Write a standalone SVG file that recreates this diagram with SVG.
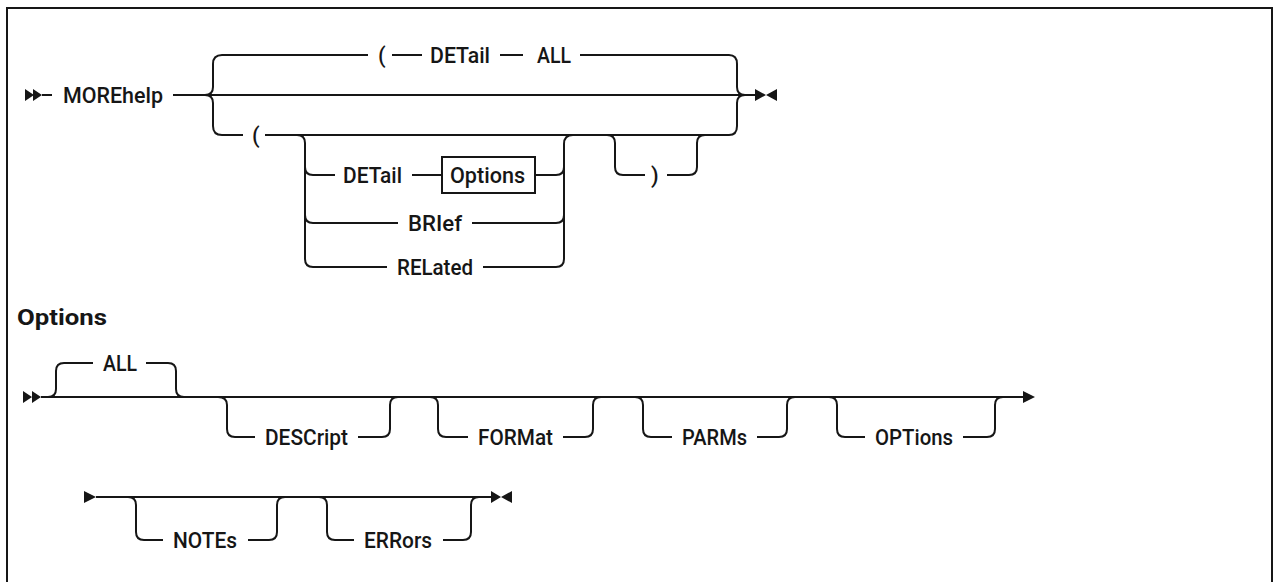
<svg xmlns="http://www.w3.org/2000/svg" width="1274" height="582" viewBox="0 0 1274 582">
<style>
.l{fill:none;stroke:#161616;stroke-width:2}
.a{fill:#161616;stroke:none}
.t{font-family:Roboto,"Liberation Sans",Arial,sans-serif;font-size:22px;font-weight:500;fill:#161616}
.h{font-family:Roboto,"Liberation Sans",Arial,sans-serif;font-size:22px;font-weight:700;fill:#161616}
.box{fill:#fff;stroke:#161616;stroke-width:2}
</style>
<rect x="0" y="0" width="1274" height="582" fill="#fff"/>
<rect x="7" y="8" width="1265" height="620" fill="none" stroke="#161616" stroke-width="2"/>

<g id="connectors">
  <path class="a" d="M25 89 L34 95 L25 101 Z M33 89 L42 95 L33 101 Z"/>
  <path class="l" d="M42 95 H52"/>
  <path class="l" d="M173 95 H755"/>
  <path class="l" d="M222 55 Q213 55 213 64 V87 Q213 95 205 95 M205 95 Q213 95 213 103 V126 Q213 135 222 135"/>
  <path class="l" d="M222 55 H368 M392 55 H422 M500 55 H523 M580 55 H729"/>
  <path class="l" d="M729 55 Q737 55 737 64 V87 Q737 95 745 95 M745 95 Q737 95 737 103 V126 Q737 135 729 135"/>
  <path class="l" d="M222 135 H243 M265 135 H729"/>
  <path class="l" d="M297 135 Q305 135 305 143 V259 Q305 267 313 267 M305 167 Q305 175 313 175 M305 215 Q305 223 313 223"/>
  <path class="l" d="M313 175 H335 M412 175 H442 M535 175 H556"/>
  <path class="l" d="M313 223 H398 M472 223 H556"/>
  <path class="l" d="M313 267 H387 M483 267 H556"/>
  <path class="l" d="M573 135 Q564 135 564 144 V259 Q564 267 556 267 M556 175 Q564 175 564 167 M556 223 Q564 223 564 215"/>
  <path class="l" d="M607 135 Q615 135 615 143 V167 Q615 175 623 175 H645 M667 175 H689 Q697 175 697 167 V143 Q697 135 705 135"/>
  <path class="a" d="M755 89 L766 95 L755 101 Z M777 89 L766 95 L777 101 Z"/>

  <path class="a" d="M23 391 L32 397 L23 403 Z M32 391 L41 397 L32 403 Z"/>
  <path class="l" d="M41 397 H1023"/>
  <path class="a" d="M1023 391 L1035 397 L1023 403 Z"/>
  <path class="l" d="M48 397 Q56 397 56 389 V371 Q56 363 64 363 H93 M146 363 H168 Q176 363 176 371 V389 Q176 397 184 397"/>
  <path class="l" d="M218 397 Q227 397 227 405 V429 Q227 437 235 437 H255 M358 437 H382 Q390 437 390 429 V405 Q390 397 398 397"/>
  <path class="l" d="M430 397 Q438 397 438 405 V429 Q438 437 446 437 H468 M563 437 H585 Q593 437 593 429 V405 Q593 397 601 397"/>
  <path class="l" d="M635 397 Q643 397 643 405 V429 Q643 437 651 437 H672 M757 437 H779 Q787 437 787 429 V405 Q787 397 795 397"/>
  <path class="l" d="M829 397 Q837 397 837 405 V429 Q837 437 845 437 H865 M963 437 H987 Q995 437 995 429 V405 Q995 397 1003 397"/>

  <path class="a" d="M84 491 L96 497 L84 503 Z"/>
  <path class="l" d="M96 497 H491"/>
  <path class="l" d="M128 497 Q136 497 136 505 V532 Q136 540 144 540 H163 M248 540 H269 Q277 540 277 532 V505 Q277 497 285 497"/>
  <path class="l" d="M319 497 Q327 497 327 505 V532 Q327 540 335 540 H354 M443 540 H463 Q471 540 471 532 V505 Q471 497 479 497"/>
  <path class="a" d="M491 491 L501 497 L491 503 Z M512 491 L501 497 L512 503 Z"/>
</g>

<g id="n-morehelp"><text class="t" x="63" y="103" textLength="100" lengthAdjust="spacingAndGlyphs">MOREhelp</text></g>
<g id="n-lparen1"><text class="t" x="378" y="63">(</text></g>
<g id="n-detail1"><text class="t" x="430" y="63" textLength="60" lengthAdjust="spacingAndGlyphs">DETail</text></g>
<g id="n-all1"><text class="t" x="537" y="63" textLength="34" lengthAdjust="spacingAndGlyphs">ALL</text></g>
<g id="n-lparen2"><text class="t" x="252" y="143">(</text></g>
<g id="n-detail2"><text class="t" x="343" y="183" textLength="59" lengthAdjust="spacingAndGlyphs">DETail</text></g>
<g id="n-options-ref">
  <rect class="box" x="442" y="157" width="93" height="36"/>
  <text class="t" x="450" y="183" textLength="75" lengthAdjust="spacingAndGlyphs">Options</text>
</g>
<g id="n-brief"><text class="t" x="408" y="231" textLength="54" lengthAdjust="spacingAndGlyphs">BRIef</text></g>
<g id="n-related"><text class="t" x="397" y="275" textLength="76" lengthAdjust="spacingAndGlyphs">RELated</text></g>
<g id="n-rparen"><text class="t" x="651" y="183">)</text></g>

<g id="n-options-title"><text class="h" x="17" y="325" textLength="90" lengthAdjust="spacingAndGlyphs">Options</text></g>
<g id="n-all2"><text class="t" x="103" y="371" textLength="34" lengthAdjust="spacingAndGlyphs">ALL</text></g>
<g id="n-descript"><text class="t" x="265" y="445" textLength="83" lengthAdjust="spacingAndGlyphs">DESCript</text></g>
<g id="n-format"><text class="t" x="478" y="445" textLength="75" lengthAdjust="spacingAndGlyphs">FORMat</text></g>
<g id="n-parms"><text class="t" x="682" y="445" textLength="65" lengthAdjust="spacingAndGlyphs">PARMs</text></g>
<g id="n-optionsopt"><text class="t" x="875" y="445" textLength="78" lengthAdjust="spacingAndGlyphs">OPTions</text></g>
<g id="n-notes"><text class="t" x="173" y="548" textLength="64" lengthAdjust="spacingAndGlyphs">NOTEs</text></g>
<g id="n-errors"><text class="t" x="364" y="548" textLength="68" lengthAdjust="spacingAndGlyphs">ERRors</text></g>
</svg>
